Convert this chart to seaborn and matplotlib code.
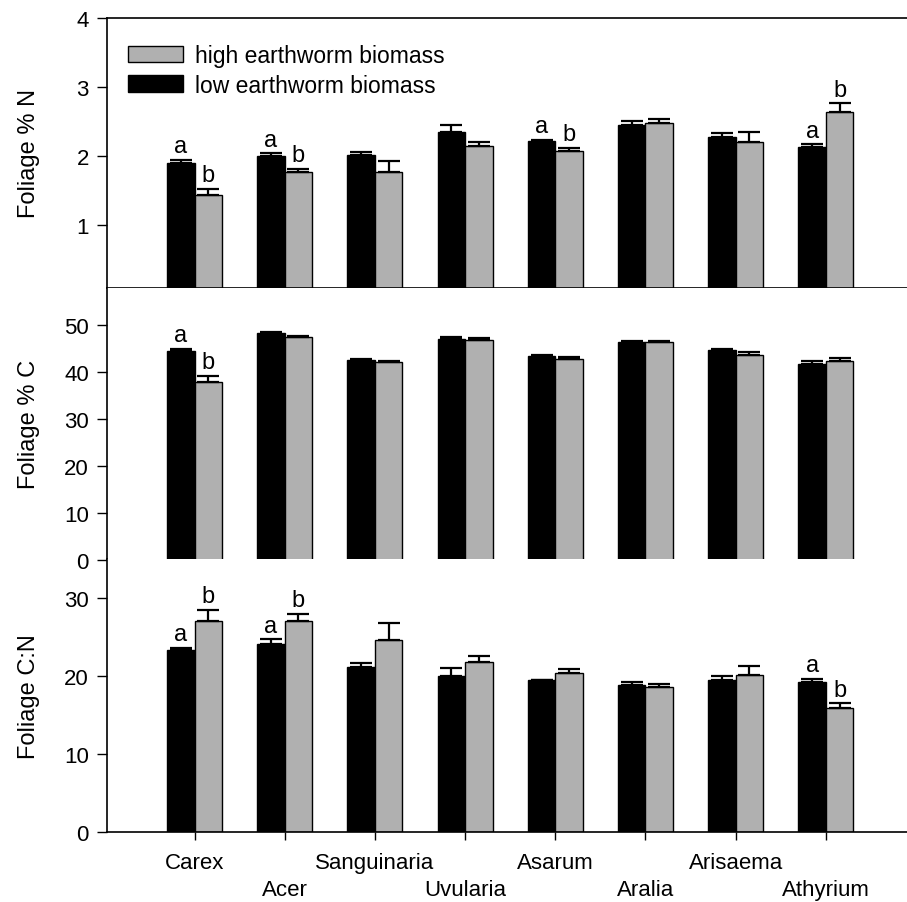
import numpy as np
import pandas as pd
import matplotlib
matplotlib.use("Agg")
import matplotlib.pyplot as plt
import matplotlib.transforms as mtransforms
from matplotlib.patches import Patch
import seaborn as sns

# Espèces (axe x)
species = ["Carex", "Acer", "Sanguinaria", "Uvularia",
           "Asarum", "Aralia", "Arisaema", "Athyrium"]
groups = ["low earthworm biomass", "high earthworm biomass"]

# Foliage % N (moyenne et erreur standard)
n_low = [1.90, 2.00, 2.01, 2.35, 2.22, 2.44, 2.27, 2.13]
n_low_se = [0.04, 0.035, 0.05, 0.09, 0.01, 0.06, 0.055, 0.035]
n_high = [1.43, 1.76, 1.77, 2.14, 2.07, 2.47, 2.20, 2.64]
n_high_se = [0.09, 0.05, 0.15, 0.065, 0.04, 0.07, 0.14, 0.12]
n_let_low = ["a", "a", "", "", "a", "", "", "a"]
n_let_high = ["b", "b", "", "", "b", "", "", "b"]

# Foliage % C
c_low = [44.6, 48.4, 42.7, 47.2, 43.5, 46.5, 44.7, 41.7]
c_low_se = [0.4, 0.2, 0.2, 0.4, 0.3, 0.2, 0.3, 0.8]
c_high = [37.9, 47.6, 42.3, 46.9, 42.9, 46.4, 43.6, 42.5]
c_high_se = [1.4, 0.2, 0.2, 0.5, 0.3, 0.3, 0.7, 0.6]
c_let_low = ["a", "", "", "", "", "", "", ""]
c_let_high = ["b", "", "", "", "", "", "", ""]

# Foliage C:N
cn_low = [23.3, 24.1, 21.1, 20.0, 19.45, 18.8, 19.45, 19.3]
cn_low_se = [0.35, 0.6, 0.55, 1.0, 0.1, 0.4, 0.5, 0.35]
cn_high = [27.1, 27.0, 24.6, 21.8, 20.4, 18.6, 20.1, 15.95]
cn_high_se = [1.35, 0.95, 2.2, 0.75, 0.45, 0.35, 1.2, 0.55]
cn_let_low = ["a", "a", "", "", "", "", "", "a"]
cn_let_high = ["b", "b", "", "", "", "", "", "b"]

panels = [
    ("Foliage % N", n_low, n_low_se, n_high, n_high_se, n_let_low, n_let_high,
     (0.08, 4), [1, 2, 3, 4]),
    ("Foliage % C", c_low, c_low_se, c_high, c_high_se, c_let_low, c_let_high,
     (0, 58), [0, 10, 20, 30, 40, 50]),
    ("Foliage C:N", cn_low, cn_low_se, cn_high, cn_high_se, cn_let_low, cn_let_high,
     (0, 35), [0, 10, 20, 30]),
]

sns.set_style("ticks")
plt.rcParams["font.family"] = ["Liberation Sans", "DejaVu Sans"]
plt.rcParams.update({"text.color": "black", "axes.labelcolor": "black",
                     "xtick.color": "black", "ytick.color": "black"})

couleurs = {"low earthworm biomass": "black", "high earthworm biomass": "#b0b0b0"}

fig = plt.figure(figsize=(9.07, 9.03), dpi=100)
positions = [[0.118, 0.680, 0.882, 0.299],
             [0.118, 0.379, 0.882, 0.301],
             [0.118, 0.0772, 0.882, 0.3028]]

for k, (ylab, low, low_se, high, high_se, let_low, let_high, ylim, yticks) in enumerate(panels):
    ax = fig.add_axes(positions[k])
    df = pd.DataFrame({
        "espece": species * 2,
        "groupe": [groups[0]] * len(species) + [groups[1]] * len(species),
        "valeur": low + high,
    })
    sns.barplot(data=df, x="espece", y="valeur", hue="groupe", order=species,
                hue_order=groups, palette=couleurs, width=0.61, errorbar=None,
                edgecolor="black", linewidth=1.0, saturation=1, legend=False, ax=ax)

    # Barres d'erreur (vers le haut seulement) et lettres de signification
    for cont, se, lettres in zip(ax.containers, [low_se, high_se], [let_low, let_high]):
        xs = [p.get_x() + p.get_width() / 2 for p in cont.patches]
        hs = [p.get_height() for p in cont.patches]
        ax.errorbar(xs, hs, yerr=[np.zeros(len(se)), se], fmt="none",
                    ecolor="black", elinewidth=1.6, capsize=8, capthick=1.6)
        for x, h, s, l in zip(xs, hs, se, lettres):
            if l:
                ax.annotate(l, (x, h + s), xytext=(0, 2), textcoords="offset points",
                            ha="center", va="bottom", fontsize=17)

    ax.set_ylim(*ylim)
    ax.set_xlim(-0.97, 7.9)
    ax.set_yticks(yticks)
    ax.set_ylabel(ylab, fontsize=17)
    ax.yaxis.set_label_coords(-0.084, 0.5)
    ax.set_xlabel("")
    ax.tick_params(axis="y", direction="out", length=7, width=1, labelsize=16, pad=6)
    ax.spines["right"].set_visible(False)
    ax.spines["top"].set_visible(k == 0)
    for s in ax.spines.values():
        s.set_linewidth(1.2)
        s.set_color("black")

    if k < 2:
        ax.tick_params(axis="x", bottom=False, labelbottom=False)
    else:
        ax.tick_params(axis="x", direction="out", length=6, width=1, labelsize=16, pad=8)
        # Étiquettes en quinconce
        for i, lab in enumerate(ax.get_xticklabels()):
            if i % 2 == 1:
                decal = mtransforms.ScaledTranslation(0, -0.27, fig.dpi_scale_trans)
                lab.set_transform(lab.get_transform() + decal)

    if k == 0:
        handles = [Patch(facecolor=couleurs[groups[1]], edgecolor="black"),
                   Patch(facecolor="black", edgecolor="black")]
        ax.legend(handles, [groups[1], groups[0]], loc="upper left", frameon=False,
                  fontsize=16.5, handlelength=2.4, handleheight=0.75, handletextpad=0.55,
                  labelspacing=0.3, borderaxespad=0.5, bbox_to_anchor=(0.0, 0.98))

plt.savefig("out.png", dpi=100)
